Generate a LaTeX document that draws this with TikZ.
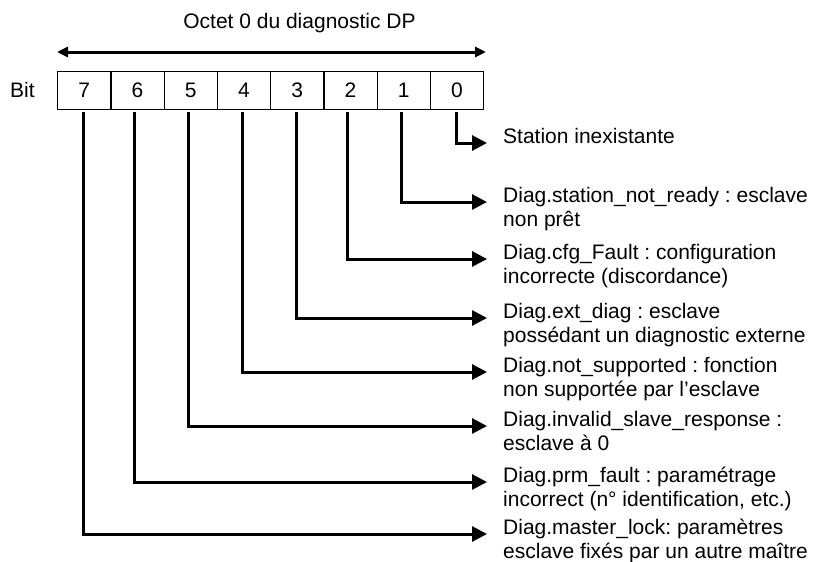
\documentclass[tikz,border=0pt]{standalone}
\usepackage{fontspec}
\setmainfont{Liberation Sans}
\usetikzlibrary{arrows.meta}
\frenchspacing
\begin{document}
\begin{tikzpicture}[x=1pt,y=-1pt,
  every node/.style={font=\fontsize{21}{24}\selectfont},
  cell/.style={draw, line width=1.3pt, minimum width=53.25pt, minimum height=38pt, inner sep=0pt, anchor=north west},
  conn/.style={line width=3pt, -{Triangle[length=15pt,width=15pt]}},
  span/.style={line width=3pt, {Triangle[length=11pt,width=10pt]}-{Triangle[length=11pt,width=10pt]}},
  lbl/.style={anchor=base west, inner sep=0pt, align=left, xshift=16pt},
  lbltwo/.style={lbl, yshift=-24pt}]
\useasboundingbox (0,0) rectangle (814,562);

% title and byte-width arrow
\node[anchor=base] (title) at (299.5,28) {Octet 0 du diagnostic DP};
\coordinate (spanL) at (57,52);
\coordinate (spanR) at (486,52);
\draw[span] (spanL) -- (spanR);

% the eight bit cells
\node[anchor=base west, inner sep=0pt] (bit) at (10,97.5) {Bit};
\foreach \b [count=\k from 0] in {7,6,5,4,3,2,1,0}
  \node[cell] (c\b) at (57+53.25*\k,71) {\b};

% arrow ends and labels
\foreach \b/\y in {0/143,1/202,2/259,3/318,4/372,5/426,6/482,7/534}
  \coordinate (e\b) at (487,\y);

\node[lbl] (l0) at (e0) {Station inexistante};
\node[lbltwo] (l1) at (e1) {Diag.station\_not\_ready : esclave\\non prêt};
\node[lbltwo] (l2) at (e2) {Diag.cfg\_Fault : configuration\\incorrecte (discordance)};
\node[lbltwo] (l3) at (e3) {Diag.ext\_diag : esclave\\possédant un diagnostic externe};
\node[lbltwo] (l4) at (e4) {Diag.not\_supported : fonction\\non supportée par l’esclave};
\node[lbltwo] (l5) at (e5) {Diag.invalid\_slave\_response :\\esclave à 0};
\node[lbltwo] (l6) at (e6) {Diag.prm\_fault : paramétrage\\incorrect (n° identification, etc.)};
\node[lbltwo] (l7) at (e7) {Diag.master\_lock: paramètres\\esclave fixés par un autre maître};

% elbow connectors from each bit to its label
\foreach \b/\dx in {0/-0.4,1/-2.1,2/-2.9,3/-0.6,4/-1.4,5/-2.1,6/-2.9,7/-0.6}
  \draw[conn] ([xshift=\dx pt, yshift=-2pt]c\b.south) |- (e\b);
\end{tikzpicture}
\end{document}
